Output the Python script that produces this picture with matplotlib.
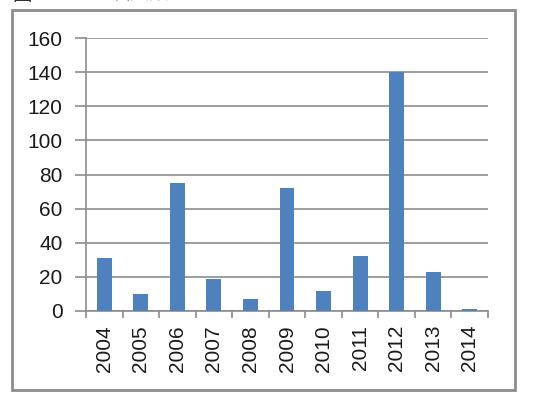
import matplotlib.pyplot as plt
from matplotlib.patches import Rectangle
from matplotlib.ticker import FixedLocator

years = ["2004", "2005", "2006", "2007", "2008", "2009",
         "2010", "2011", "2012", "2013", "2014"]
counts = [31, 10, 75, 19, 7, 72, 12, 32, 140, 23, 1]
y_ticks = [0, 20, 40, 60, 80, 100, 120, 140, 160]

W, H = 535, 400
fig = plt.figure(figsize=(W / 100, H / 100), dpi=100)
plt.rcParams['font.family'] = ['Liberation Sans', 'Noto Sans CJK SC']

# outer frame of the pasted chart
fig.patches.append(Rectangle((12 / W, 1 - 390 / H), (515 - 12) / W, (390 - 10) / H,
                             transform=fig.transFigure, fill=False,
                             edgecolor="#8c8c8c", linewidth=2))

# caption cut off at the top of the screenshot (only its lower edge shows)
cjk = ['Noto Sans CJK SC', 'DejaVu Sans']
fig.text(12 / W, 1 + 6 / H, "图", fontsize=14, va="center", ha="left",
         family=cjk, color="#333333")
fig.text(110 / W, 1 + 6 / H, "发文数量", fontsize=14, va="center", ha="left",
         family=cjk, color="#333333")

ax = fig.add_axes([86 / W, 1 - 311 / H, (488 - 86) / W, (311 - 38) / H])
x = range(len(years))
ax.bar(x, counts, width=0.41, color="#4f81bd", zorder=3)

ax.set_ylim(0, 160)
ax.set_xlim(-0.5, len(years) - 0.5)
ax.set_yticks(y_ticks)
ax.set_xticks(list(x))
ax.set_xticklabels(years, rotation=90)
ax.xaxis.set_minor_locator(FixedLocator([i - 0.5 for i in range(len(years) + 1)]))

ax.grid(axis="y", color="#8c8c8c", linewidth=1.2, zorder=0)
for side in ["top", "right"]:
    ax.spines[side].set_visible(False)
for side in ["left", "bottom"]:
    ax.spines[side].set_color("#8c8c8c")
    ax.spines[side].set_linewidth(1.2)

ax.tick_params(axis="y", length=8, width=1.2, color="#8c8c8c", pad=9,
               labelsize=15, labelcolor="#1a1a1a")
ax.tick_params(axis="x", which="major", length=0, pad=10,
               labelsize=15, labelcolor="#1a1a1a")
ax.tick_params(axis="x", which="minor", length=5, width=1.2, color="#8c8c8c")

fig.savefig("out.png", dpi=100)
